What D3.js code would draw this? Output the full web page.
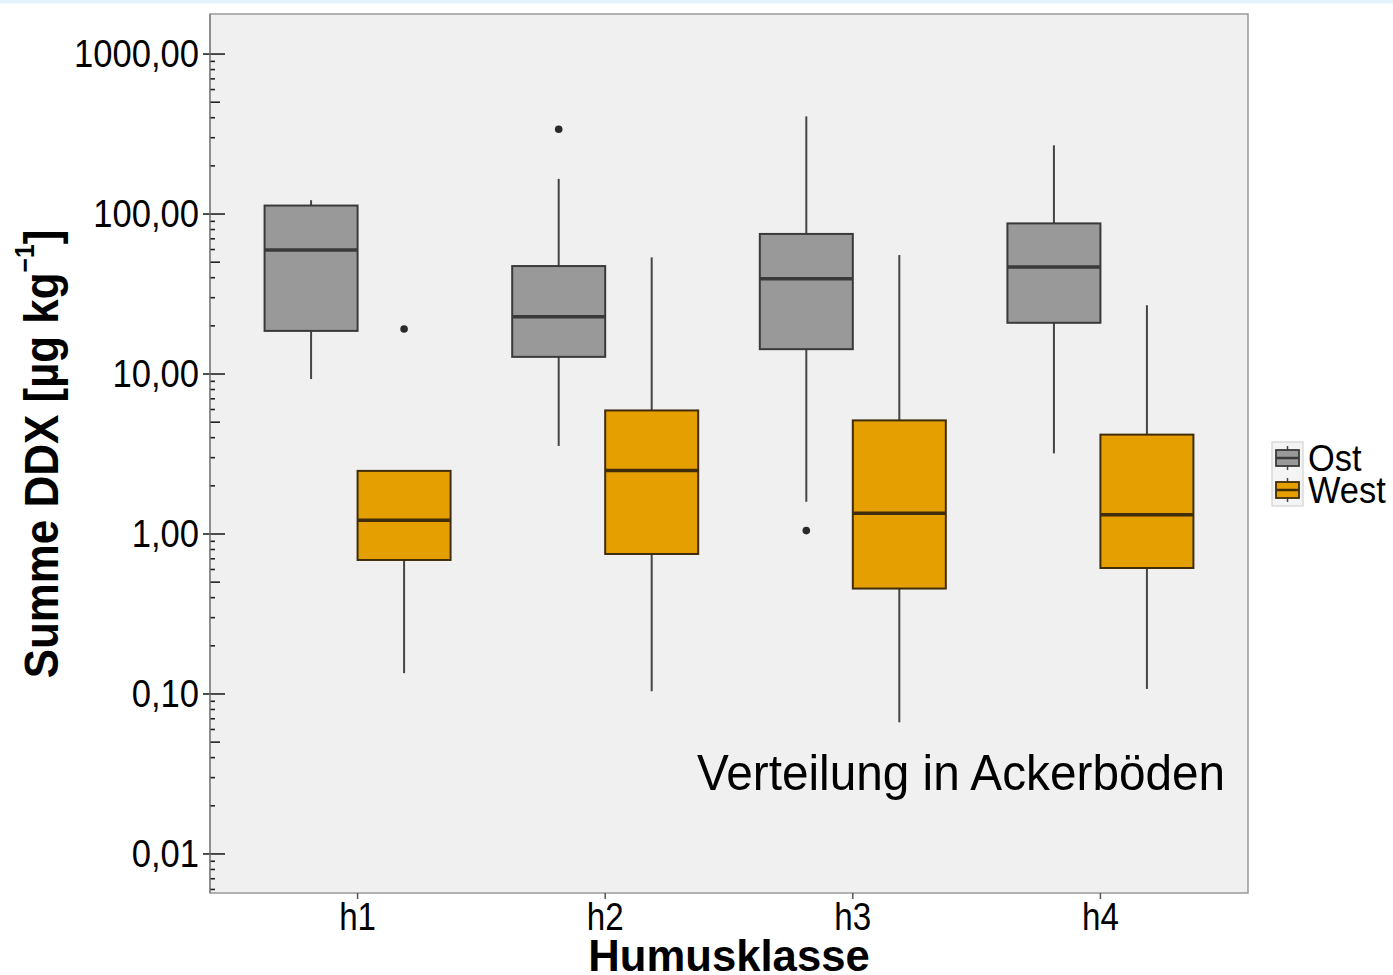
<!DOCTYPE html>
<html>
<head>
<meta charset="utf-8">
<script src="https://cdn.jsdelivr.net/npm/d3@7"></script>
<style>
html,body{margin:0;padding:0;background:#fff;}
svg{display:block;}
text{font-family:"Liberation Sans",Arial,Helvetica,sans-serif;fill:#000;}
</style>
</head>
<body>
<svg id="chart" width="1393" height="975"></svg>
<script>
// ---------- data ----------
const categories = ["h1", "h2", "h3", "h4"];
const groups = ["Ost", "West"];
const groupColors = ["#999999", "#e69f00"];
const groupStrokes = ["#3a3a3a", "#3f2d0c"];

const ostLow    = [9.3, 3.55, 1.59, 3.19];
const ostQ1     = [18.6, 12.8, 14.3, 20.9];
const ostMedian = [59.6, 22.8, 39.4, 46.6];
const ostQ3     = [113, 47.3, 75.1, 87.4];
const ostHigh   = [122, 166, 408, 269];

const westLow    = [0.135, 0.104, 0.0665, 0.1075];
const westQ1     = [0.688, 0.75, 0.456, 0.613];
const westMedian = [1.22, 2.49, 1.35, 1.32];
const westQ3     = [2.48, 5.92, 5.13, 4.18];
const westHigh   = [2.48, 53.6, 55.4, 26.9];

const outlierCats   = ["h1", "h2", "h3"];
const outlierGroups = ["West", "Ost", "Ost"];
const outlierValues = [19.1, 339, 1.05];

const yTickValues = [0.01, 0.1, 1, 10, 100, 1000];
const yTickLabels = ["0,01", "0,10", "1,00", "10,00", "100,00", "1000,00"];

const xTitle = "Humusklasse";
const note = "Verteilung in Ackerböden";

// ---------- layout ----------
const svg = d3.select("#chart");
const plot = {left: 210, top: 14, right: 1248, bottom: 893};

const boxes = [];
categories.forEach((c, i) => {
  boxes.push({cat: c, group: "Ost", gi: 0, low: ostLow[i], q1: ostQ1[i], med: ostMedian[i], q3: ostQ3[i], high: ostHigh[i]});
  boxes.push({cat: c, group: "West", gi: 1, low: westLow[i], q1: westQ1[i], med: westMedian[i], q3: westQ3[i], high: westHigh[i]});
});
const outliers = outlierValues.map((v, i) => ({cat: outlierCats[i], group: outlierGroups[i], value: v}));

const x = d3.scalePoint().domain(categories).range([plot.left, plot.right]).padding(0.596);
const xg = d3.scaleBand().domain(groups).range([-93, 93]);
const y = d3.scaleLog().domain([0.0057, 1780]).range([plot.bottom, plot.top]);

// top strip
svg.append("rect").attr("x", 0).attr("y", 0).attr("width", 1393).attr("height", 3.5).attr("fill", "#e3f2fb");

// plot frame
svg.append("rect").attr("x", plot.left).attr("y", plot.top)
  .attr("width", plot.right - plot.left).attr("height", plot.bottom - plot.top)
  .attr("fill", "#f0f0f0").attr("stroke", "#9a9a9a").attr("stroke-width", 1.5);

// y axis ticks (log, minor ticks inside)
const allTicks = y.ticks();
const yAxisG = svg.append("g");
allTicks.forEach(t => {
  const m = Math.round(t / Math.pow(10, Math.floor(Math.log10(t) + 1e-9)));
  let x1 = plot.left, x2 = plot.left + 5;
  if (m === 1) { x1 = plot.left - 7; x2 = plot.left + 15; }
  else if (m === 5) { x2 = plot.left + 10; }
  yAxisG.append("line").attr("x1", x1).attr("x2", x2)
    .attr("y1", y(t)).attr("y2", y(t)).attr("stroke", "#222").attr("stroke-width", 1.6);
});
yAxisG.append("line").attr("x1", plot.left).attr("x2", plot.left)
  .attr("y1", plot.top).attr("y2", plot.bottom).attr("stroke", "#777").attr("stroke-width", 1.2);

function condText(parent, tx, ty, str, opts) {
  const g = parent.append("g").attr("transform",
    `translate(${tx},${ty}) rotate(${opts.rotate || 0}) scale(${opts.c || 0.92},1)`);
  return g.append("text").attr("x", 0).attr("y", 0)
    .attr("text-anchor", opts.anchor || "start")
    .attr("font-size", opts.size)
    .attr("font-weight", opts.weight || "normal")
    .text(str);
}

yTickValues.forEach((v, i) => {
  condText(svg, 199, y(v) + 13, yTickLabels[i], {anchor: "end", size: 38, c: 0.91});
});

// x axis ticks
categories.forEach(c => {
  svg.append("line").attr("x1", x(c)).attr("x2", x(c)).attr("y1", plot.bottom).attr("y2", plot.bottom + 6)
    .attr("stroke", "#555").attr("stroke-width", 1.5);
  condText(svg, x(c), 930, c, {anchor: "middle", size: 39, c: 0.85});
});

// axis titles
condText(svg, 729, 971, xTitle, {anchor: "middle", size: 45, weight: "bold", c: 0.97});

const yt = svg.append("g").attr("transform", "translate(58,454) rotate(-90) scale(0.915,1)")
  .append("text").attr("text-anchor", "middle").attr("font-size", 48).attr("font-weight", "bold");
yt.append("tspan").text("Summe DDX [µg kg");
yt.append("tspan").attr("font-size", 27).attr("dy", -24).text("−1");
yt.append("tspan").attr("dy", 24).text("]");

// boxes
const bw = xg.bandwidth();
const bg = svg.append("g");
boxes.forEach(b => {
  const x0 = x(b.cat) + xg(b.group);
  const cx = x0 + bw / 2;
  bg.append("line").attr("x1", cx).attr("x2", cx).attr("y1", y(b.q3)).attr("y2", y(b.high))
    .attr("stroke", "#454545").attr("stroke-width", 2);
  bg.append("line").attr("x1", cx).attr("x2", cx).attr("y1", y(b.q1)).attr("y2", y(b.low))
    .attr("stroke", "#454545").attr("stroke-width", 2);
  bg.append("rect").attr("x", x0).attr("y", y(b.q3)).attr("width", bw).attr("height", y(b.q1) - y(b.q3))
    .attr("fill", groupColors[b.gi]).attr("stroke", groupStrokes[b.gi]).attr("stroke-width", 2);
  bg.append("line").attr("x1", x0).attr("x2", x0 + bw).attr("y1", y(b.med)).attr("y2", y(b.med))
    .attr("stroke", groupStrokes[b.gi]).attr("stroke-width", 3.5);
});
outliers.forEach(o => {
  bg.append("circle").attr("cx", x(o.cat) + xg(o.group) + bw / 2).attr("cy", y(o.value))
    .attr("r", 3.8).attr("fill", "#2a2a2a");
});

// annotation
condText(svg, 697, 790, note, {anchor: "start", size: 50, c: 0.955});

// legend
const lg = svg.append("g");
lg.append("rect").attr("x", 1272).attr("y", 442).attr("width", 31).attr("height", 64)
  .attr("fill", "#f4f4f4").attr("stroke", "#d2d2d2").attr("stroke-width", 1.2);
groups.forEach((g, i) => {
  const cy = 458 + i * 32;
  lg.append("line").attr("x1", 1287.5).attr("x2", 1287.5).attr("y1", cy - 12).attr("y2", cy + 12)
    .attr("stroke", "#454545").attr("stroke-width", 1.5);
  lg.append("rect").attr("x", 1276).attr("y", cy - 8).attr("width", 23).attr("height", 16)
    .attr("fill", groupColors[i]).attr("stroke", groupStrokes[i]).attr("stroke-width", 1.8);
  lg.append("line").attr("x1", 1276).attr("x2", 1299).attr("y1", cy).attr("y2", cy)
    .attr("stroke", groupStrokes[i]).attr("stroke-width", 2.5);
  condText(lg, 1308, cy + 13, g, {anchor: "start", size: 37, c: 0.93});
});
</script>
</body>
</html>
